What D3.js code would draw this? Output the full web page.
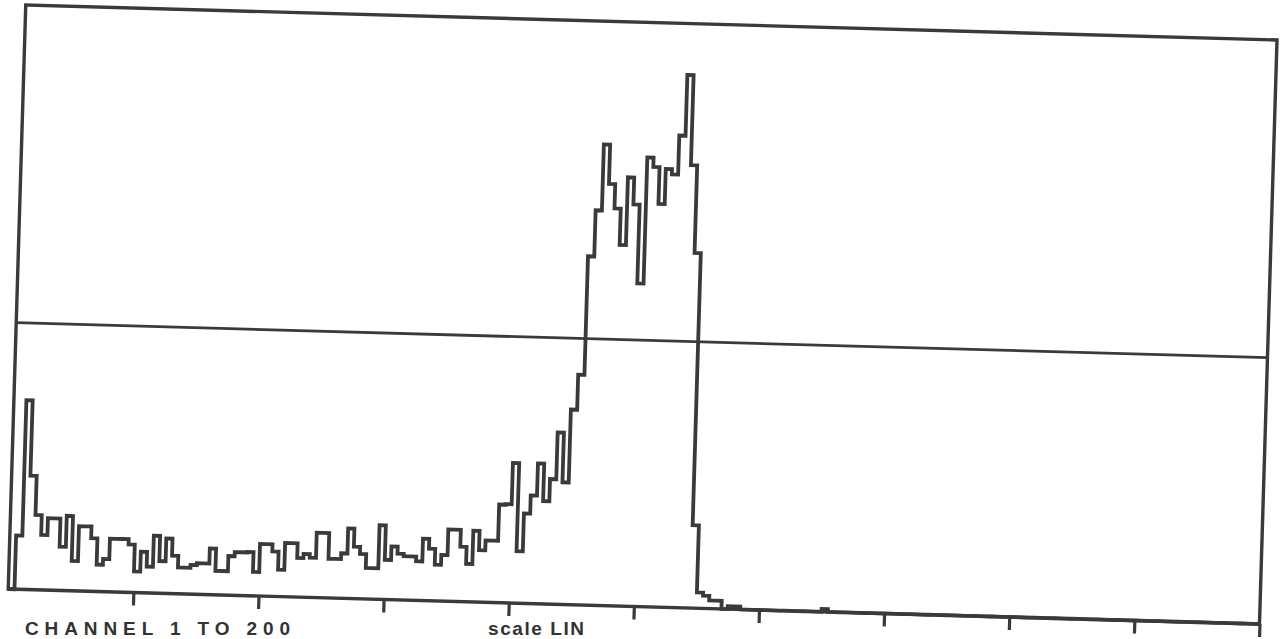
<!DOCTYPE html>
<html>
<head>
<meta charset="utf-8">
<script src="https://cdn.jsdelivr.net/npm/d3@7"></script>
<style>
    body { margin: 0; background: #fff; overflow: hidden; }
    svg { display: block; }
    .frame { fill: none; stroke: #3a3a3a; stroke-width: 3.4; }
    .spectrum { fill: none; stroke: #3a3a3a; stroke-width: 3.8; stroke-linejoin: miter; }
    .half-max { stroke: #3a3a3a; stroke-width: 2.8; }
    .ticks line { stroke: #3a3a3a; stroke-width: 3.2; }
    .label { font-family: "Liberation Sans", Arial, sans-serif; font-size: 19px; font-weight: bold; fill: #333; }
</style>
</head>
<body>
<script>
// MCA spectrum, channels 1 to 200, linear vertical scale
var firstChannel = 1;
var lastChannel = 200;

// counts per channel (channel 1 .. 200), full scale = 1000
var counts = [
      0,  92, 324, 195, 128,  94, 123, 123,  75, 128,
     51, 111, 111,  91,  46,  56,  91,  91,  91,  82,
     36,  70,  45,  98,  55,  94,  65,  45,  45,  50,
     53,  53,  79,  41,  41,  67,  74,  74,  75,  41,
     89,  89,  77,  46,  92,  92,  67,  74,  68, 111,
    111,  67,  67,  77, 120,  89,  77,  53,  53, 127,
     68,  91,  79,  75,  75,  67, 106,  89,  62,  79,
    123, 123,  94,  65, 122,  89, 106, 106, 168, 169,
    240,  89, 154, 185, 240, 176, 214, 294, 209, 334,
    394, 597, 676, 789, 722, 680, 618, 734, 688, 553,
    769, 753, 690, 750, 741, 808, 912, 758, 608, 142,
     27,  22,  14,  14,   0,   5,   5,   0,   0,   0,
      0,   0,   0,   0,   0,   0,   0,   0,   0,   0,
      5,   0,   0,   0,   0,   0,   0,   0,   0,   0,
      0,   0,   0,   0,   0,   0,   0,   0,   0,   0,
      0,   0,   0,   0,   0,   0,   0,   0,   0,   0,
      0,   0,   0,   0,   0,   0,   0,   0,   0,   0,
      0,   0,   0,   0,   0,   0,   0,   0,   0,   0,
      0,   0,   0,   0,   0,   0,   0,   0,   0,   0,
      0,   0,   0,   0,   0,   0,   0,   0,   0,   0
];

var fullScale = 1000;
var tickChannels = [20, 40, 60, 80, 100, 120, 140, 160, 180, 200];
var channelLabel = "CHANNEL 1 TO 200";
var scaleLabel = "scale LIN";

var width = 1280, height = 639;
var W = 1250, H = 584;

var svg = d3.select("body").append("svg")
    .attr("width", width)
    .attr("height", height);

// the plotter sheet sits a little skewed on the scan
var plot = svg.append("g")
    .attr("transform", "matrix(1.001,0.028,-0.03,1,25.75,5)");

var x = d3.scaleLinear()
    .domain([firstChannel - 1, lastChannel])
    .range([0, W]);

var y = d3.scaleLinear()
    .domain([0, fullScale])
    .range([H, 0]);

// frame
plot.append("rect")
    .attr("class", "frame")
    .attr("x", 0)
    .attr("y", 0)
    .attr("width", W)
    .attr("height", H);

// ticks under the channel axis
var axis = d3.axisBottom(x)
    .tickValues(tickChannels)
    .tickSize(13)
    .tickFormat("");

plot.append("g")
    .attr("class", "ticks")
    .attr("transform", "translate(0," + H + ")")
    .call(axis)
    .call(function(g) { g.select(".domain").remove(); });

// half maximum line
var halfMax = d3.max(counts) / 2;
plot.append("line")
    .attr("class", "half-max")
    .attr("x1", 0)
    .attr("x2", W)
    .attr("y1", y(halfMax))
    .attr("y2", y(halfMax));

// stepped histogram, one step per channel
var points = counts.map(function(c, i) { return [i + firstChannel - 1, c]; });
points.push([lastChannel, counts[counts.length - 1]]);

var line = d3.line()
    .x(function(d) { return x(d[0]); })
    .y(function(d) { return y(d[1]); })
    .curve(d3.curveStepAfter);

plot.append("path")
    .attr("class", "spectrum")
    .attr("d", line(points));

// labels under the axis, kept level so they stay inside the page
svg.append("text")
    .attr("class", "label")
    .attr("x", 25)
    .attr("y", 635)
    .attr("textLength", 265)
    .attr("lengthAdjust", "spacing")
    .text(channelLabel);

svg.append("text")
    .attr("class", "label")
    .attr("x", 488)
    .attr("y", 635)
    .attr("textLength", 96)
    .attr("lengthAdjust", "spacing")
    .text(scaleLabel);
</script>
</body>
</html>
